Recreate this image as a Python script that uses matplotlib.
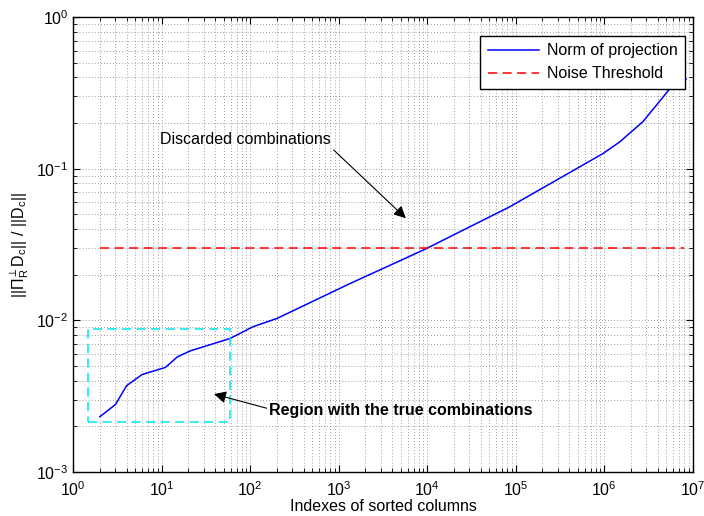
import matplotlib.pyplot as plt
from matplotlib.ticker import LogLocator, NullFormatter

plt.rcParams['font.family'] = ['Liberation Sans', 'DejaVu Sans']
plt.rcParams['mathtext.fontset'] = 'custom'
plt.rcParams['mathtext.rm'] = 'Liberation Sans'
plt.rcParams['mathtext.it'] = 'Liberation Sans'
plt.rcParams['mathtext.default'] = 'regular'

# norm of the projection for the sorted columns
col_index = [2, 3, 4, 6, 11, 15, 21, 59, 108, 200, 1340, 5590, 9800,
             85000, 9.7e5, 1.49e6, 2.73e6, 5.96e6, 8.4e6]
proj_norm = [0.00232, 0.00279, 0.00371, 0.00440, 0.0049, 0.00575, 0.0063,
             0.0076, 0.0091, 0.0103, 0.0175, 0.0256, 0.0298,
             0.056, 0.126, 0.150, 0.204, 0.356, 0.39]

# noise threshold
thr_x = [2, 8.0e6]
thr_level = 0.03

# box around the true combinations
box_x = [1.47, 59]
box_y = [0.00213, 0.00877]

fig, ax = plt.subplots(figsize=(7.04, 5.16), dpi=100)
fig.subplots_adjust(left=0.104, right=0.984, top=0.967, bottom=0.085)

ax.plot(col_index, proj_norm, color='#0000ff', lw=1.1, label='Norm of projection')
ax.plot(thr_x, [thr_level, thr_level], color='#ff0000', lw=1.1,
        ls=(0, (6, 3.5)), label='Noise Threshold')
ax.plot([box_x[0], box_x[1], box_x[1], box_x[0], box_x[0]],
        [box_y[0], box_y[0], box_y[1], box_y[1], box_y[0]],
        color='#00e8f0', lw=1.1, ls=(0, (6, 3.5)))

ax.set_xscale('log')
ax.set_yscale('log')
ax.set_xlim(1, 1e7)
ax.set_ylim(1e-3, 1)
ax.set_xticks([10.0 ** k for k in range(8)])
ax.set_yticks([10.0 ** k for k in range(-3, 1)])
ax.xaxis.set_minor_locator(LogLocator(base=10, subs=range(2, 10), numticks=10))
ax.xaxis.set_minor_formatter(NullFormatter())
ax.yaxis.set_minor_formatter(NullFormatter())

ax.grid(True, which='both', ls=(0, (1, 3)), color='0.4', lw=0.55)
ax.tick_params(which='both', direction='in', top=True, right=True,
               labelsize=11.5)
ax.tick_params(axis='x', which='major', pad=6)
ax.tick_params(which='major', length=5)
ax.tick_params(which='minor', length=3)
for s in ax.spines.values():
    s.set_linewidth(1.0)

ax.set_xlabel('Indexes of sorted columns', fontsize=11.5, labelpad=0)
ax.set_ylabel(r'$||\Pi_R^{\perp}D_c||\ /\ ||D_c||$', fontsize=11.5, labelpad=4)

ax.annotate('Discarded combinations', xy=(5730, 0.0472), xytext=(9.6, 0.155),
            fontsize=11.5, va='center', ha='left',
            arrowprops=dict(arrowstyle='-|>', color='black', lw=0.8,
                            mutation_scale=18, shrinkA=0, shrinkB=0,
                            relpos=(1.0, 0.0)))
ax.annotate('Region with the true combinations', xy=(39, 0.00327),
            xytext=(165, 0.00255), fontsize=11.5, fontweight='bold',
            va='center', ha='left',
            arrowprops=dict(arrowstyle='-|>', color='black', lw=0.8,
                            mutation_scale=18, shrinkA=0, shrinkB=0,
                            relpos=(0.0, 0.6)))

leg = ax.legend(loc='upper right', bbox_to_anchor=(0.987, 0.958),
                borderaxespad=0, fontsize=11.5, fancybox=False, framealpha=1,
                edgecolor='black', handlelength=3.2, handletextpad=0.5,
                borderpad=0.45, labelspacing=0.5)
leg.get_frame().set_linewidth(1.0)

fig.savefig('out.png', dpi=100)
